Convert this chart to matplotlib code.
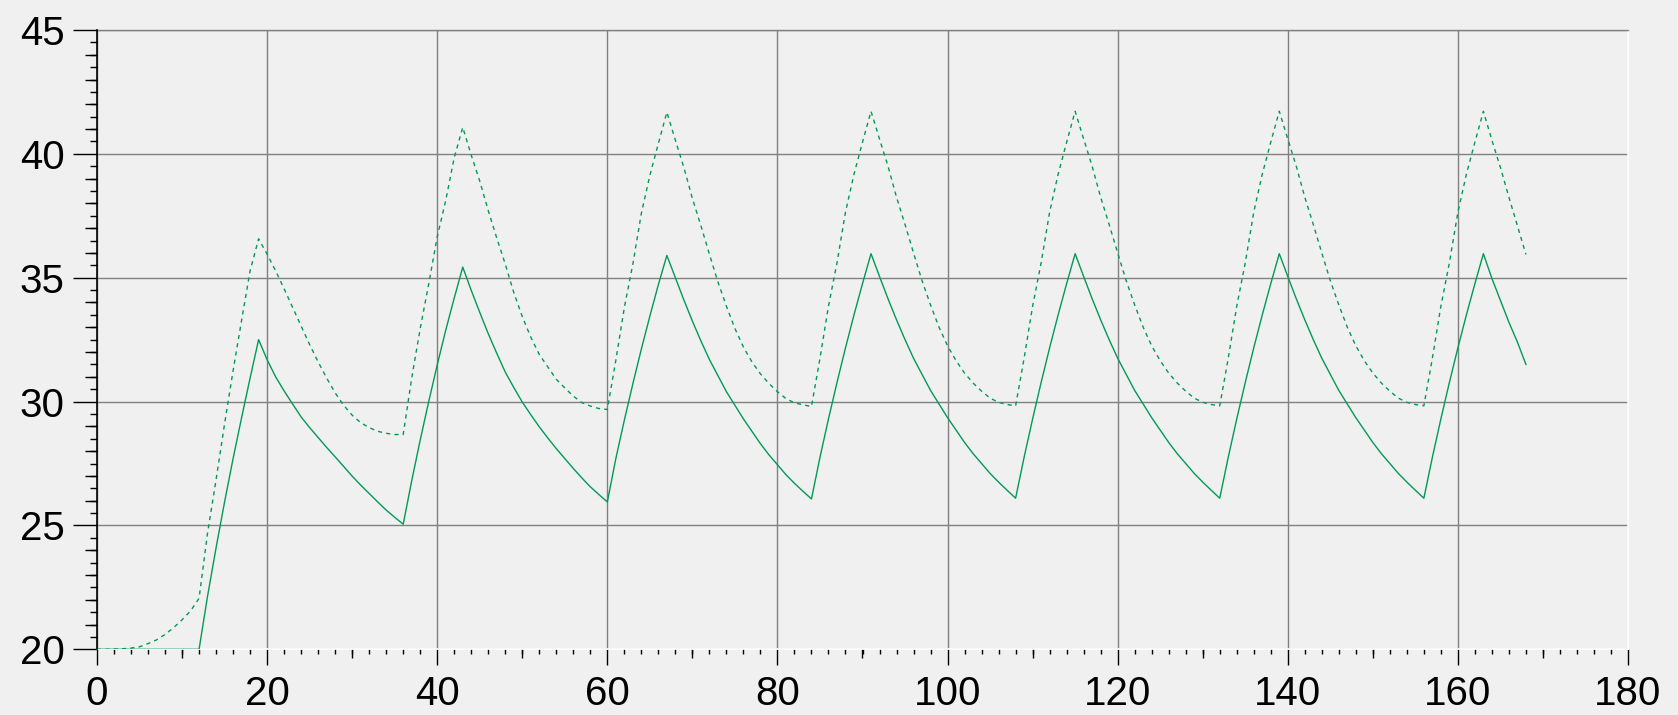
import matplotlib
matplotlib.use('Agg')
import matplotlib.pyplot as plt
from matplotlib.ticker import MultipleLocator, NullLocator

# ---------------- data ----------------
hours = list(range(0, 169))

solid = [
    # 0-12
    20.0, 20.0, 20.0, 20.0, 20.0, 20.0, 20.0, 20.0, 20.0, 20.0, 20.0, 20.0, 20.0,
    # 13-19
    22.15, 24.1, 25.95, 27.7, 29.35, 30.95, 32.5,
    # 20-36
    31.69, 31.0, 30.43, 29.9, 29.38, 28.95, 28.55, 28.15, 27.77, 27.38, 26.99, 26.63, 26.29, 25.95, 25.62, 25.33, 25.05,
    # 37-43
    26.8, 28.45, 30.0, 31.48, 32.88, 34.18, 35.43,
    # 44-60
    34.49, 33.6, 32.74, 31.95, 31.19, 30.57, 29.98, 29.47, 28.98, 28.53, 28.1, 27.7, 27.3, 26.92, 26.56, 26.25, 25.95,
    # 61-67
    27.7, 29.25, 30.72, 32.12, 33.45, 34.72, 35.9,
    # 68-84
    35.0, 34.1, 33.25, 32.45, 31.7, 31.05, 30.4, 29.85, 29.3, 28.8, 28.3, 27.85, 27.45, 27.05, 26.7, 26.38, 26.07,
    # 85-91
    27.75, 29.3, 30.77, 32.17, 33.5, 34.76, 35.97,
    # 92-108
    35.05, 34.15, 33.3, 32.5, 31.75, 31.1, 30.45, 29.9, 29.35, 28.85, 28.35, 27.9, 27.5, 27.1, 26.75, 26.42, 26.1,
    # 109-115
    27.75, 29.3, 30.77, 32.17, 33.5, 34.76, 35.97,
    # 116-132
    35.05, 34.15, 33.3, 32.5, 31.75, 31.1, 30.45, 29.9, 29.35, 28.85, 28.35, 27.9, 27.5, 27.1, 26.75, 26.42, 26.1,
    # 133-139
    27.75, 29.3, 30.77, 32.17, 33.5, 34.76, 35.97,
    # 140-156
    35.05, 34.15, 33.3, 32.5, 31.75, 31.1, 30.45, 29.9, 29.35, 28.85, 28.35, 27.9, 27.5, 27.1, 26.75, 26.42, 26.1,
    # 157-163
    27.75, 29.3, 30.77, 32.17, 33.5, 34.76, 35.97,
    # 164-168
    34.97, 34.08, 33.2, 32.4, 31.5,
]

dashed = [
    # 0-12
    20.0, 20.0, 20.01, 20.02, 20.05, 20.1, 20.23, 20.38, 20.6, 20.87, 21.19, 21.55, 22.06,
    # 13-19
    24.7, 26.85, 29.1, 31.25, 33.28, 35.28, 36.57,
    # 20-36
    35.95, 35.28, 34.55, 33.8, 33.05, 32.3, 31.6, 30.95, 30.35, 29.85, 29.45, 29.15, 28.95, 28.8, 28.72, 28.67, 28.67,
    # 37-43
    30.95, 32.95, 34.75, 36.65, 38.12, 39.85, 41.07,
    # 44-60
    39.95, 38.9, 37.71, 36.6, 35.55, 34.4, 33.43, 32.6, 31.9, 31.4, 30.9, 30.55, 30.22, 29.96, 29.82, 29.72, 29.68,
    # 61-67
    31.67, 33.8, 35.55, 37.6, 39.13, 40.42, 41.68,
    # 68-84
    40.55, 39.45, 38.2, 37.1, 35.95, 34.83, 33.85, 32.95, 32.2, 31.6, 31.12, 30.73, 30.4, 30.12, 29.95, 29.87, 29.8,
    # 85-91
    31.75, 33.85, 35.6, 37.65, 39.18, 40.47, 41.72,
    # 92-108
    40.6, 39.5, 38.25, 37.15, 36.0, 34.88, 33.9, 33.0, 32.25, 31.65, 31.15, 30.75, 30.42, 30.14, 29.97, 29.88, 29.83,
    # 109-115
    31.75, 33.85, 35.6, 37.65, 39.18, 40.47, 41.72,
    # 116-132
    40.6, 39.5, 38.25, 37.15, 36.0, 34.88, 33.9, 33.0, 32.25, 31.65, 31.15, 30.75, 30.42, 30.14, 29.97, 29.88, 29.83,
    # 133-139
    31.75, 33.85, 35.6, 37.65, 39.18, 40.47, 41.72,
    # 140-156
    40.6, 39.5, 38.25, 37.15, 36.0, 34.88, 33.9, 33.0, 32.25, 31.65, 31.15, 30.75, 30.42, 30.14, 29.97, 29.88, 29.83,
    # 157-163
    31.75, 33.85, 35.6, 37.65, 39.18, 40.47, 41.72,
    # 164-168
    40.55, 39.45, 38.25, 37.1, 35.94,
]

x_limits = (0, 180)
y_limits = (20, 45)

# ---------------- style ----------------
GREEN = '#009a55'
BG = '#f0f0f0'
GRID = '#808080'
plt.rcParams['font.family'] = ['Liberation Sans', 'DejaVu Sans']

W, H = 1678, 715
fig = plt.figure(figsize=(W / 100, H / 100), dpi=100, facecolor=BG)
left, right, top, bottom = 97, 1628, 30, 649.3
ax = fig.add_axes([left / W, (H - bottom) / H, (right - left) / W, (bottom - top) / H])
ax.set_facecolor(BG)

ax.plot(hours, dashed, color=GREEN, lw=1.0, ls=(0, (3, 3)), zorder=3)
ax.plot(hours, solid, color=GREEN, lw=1.0, zorder=3)

ax.set_xlim(*x_limits)
ax.set_ylim(*y_limits)

ax.xaxis.set_major_locator(MultipleLocator(20))
ax.xaxis.set_minor_locator(MultipleLocator(2))
ax.yaxis.set_major_locator(MultipleLocator(5))
ax.yaxis.set_minor_locator(MultipleLocator(0.5))

ax.grid(which='major', color=GRID, lw=1.0)
ax.set_axisbelow(True)

ax.tick_params(axis='x', which='major', direction='out', length=11.5, width=1, pad=7,
               labelsize=29, colors='black')
ax.tick_params(axis='x', which='minor', direction='out', length=3.6, width=1)
ax.tick_params(axis='y', which='major', direction='out', length=17.3, width=1, pad=6,
               labelsize=29, colors='black')
ax.tick_params(axis='y', which='minor', direction='out', length=5, width=1)

ax.spines['top'].set_color(GRID)
ax.spines['top'].set_linewidth(1.0)
ax.spines['left'].set_color('black')
ax.spines['left'].set_linewidth(1.2)
ax.spines['left'].set_zorder(4)
for s in ['bottom', 'right']:
    ax.spines[s].set_color('white')
    ax.spines[s].set_linewidth(1.2)
    ax.spines[s].set_zorder(1.8)

# medium ticks (every 10 on x, every 1 on y)
sx = ax.secondary_xaxis('bottom')
sx.set_xticks([v for v in range(10, 180, 20)])
sx.xaxis.set_minor_locator(NullLocator())
sx.tick_params(axis='x', direction='out', length=6.7, width=1, labelbottom=False)
sx.spines['bottom'].set_visible(False)

sy = ax.secondary_yaxis('left')
sy.set_yticks([v for v in range(21, 45) if v % 5])
sy.yaxis.set_minor_locator(NullLocator())
sy.tick_params(axis='y', direction='out', length=9, width=1, labelleft=False)
sy.spines['left'].set_visible(False)

fig.savefig('out.png', dpi=100, facecolor=BG)
